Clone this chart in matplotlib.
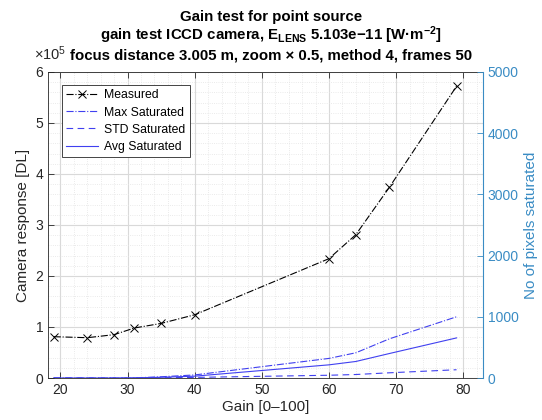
import matplotlib
matplotlib.use("Agg")
import matplotlib.pyplot as plt
from matplotlib.ticker import MultipleLocator

plt.rcParams['font.family'] = ['Liberation Sans', 'DejaVu Sans']
plt.rcParams['mathtext.fontset'] = 'custom'
plt.rcParams['mathtext.rm'] = 'Liberation Sans'
plt.rcParams['mathtext.bf'] = 'Liberation Sans:bold'
plt.rcParams['mathtext.it'] = 'Liberation Sans:italic'

# data
gain = [19, 24, 28, 31, 35, 40, 60, 64, 69, 79]
measured = [0.81e5, 0.79e5, 0.85e5, 0.98e5, 1.07e5, 1.24e5, 2.34e5, 2.81e5, 3.74e5, 5.72e5]
max_sat = [0, 0, 0, 2, 20, 50, 320, 412, 640, 1000]
std_sat = [0, 0, 0, 1, 5, 10, 45, 57, 85, 135]
avg_sat = [0, 0, 0, 1, 12, 30, 215, 270, 400, 655]

title_lines = ['Gain test for point source',
               r'gain test ICCD camera, E$_{\mathbf{LENS}}$ 5.103e−11 [W·m$^{\mathbf{-2}}$]',
               'focus distance 3.005 m, zoom × 0.5, method 4, frames 50']

dark = '#262626'
blue_ax = '#3a8cc4'
blue_ln = '#4040f0'

fig = plt.figure(figsize=(5.42, 4.2), dpi=100)
ax = fig.add_axes([0.0886, 0.1, 0.802, 0.7286])
ax2 = ax.twinx()

scale = 1e5
h1, = ax.plot(gain, [v / scale for v in measured], color='k', ls='-.', lw=0.8,
              marker='x', ms=5.5, mew=0.7, label='Measured')
h2, = ax2.plot(gain, max_sat, color=blue_ln, ls='-.', lw=0.8, label='Max Saturated')
h3, = ax2.plot(gain, std_sat, color=blue_ln, ls='--', lw=0.8, dashes=(6, 4),
               label='STD Saturated')
h4, = ax2.plot(gain, avg_sat, color=blue_ln, ls='-', lw=0.8, label='Avg Saturated')

ax.set_xlim(18.15, 82.9)
ax.set_ylim(0, 6)
ax2.set_ylim(0, 5000)

ax.xaxis.set_major_locator(MultipleLocator(10))
ax.xaxis.set_minor_locator(MultipleLocator(2))
ax.yaxis.set_major_locator(MultipleLocator(1))
ax.yaxis.set_minor_locator(MultipleLocator(0.2))
ax2.yaxis.set_major_locator(MultipleLocator(1000))

ax.grid(True, which='major', color='#d9d9d9', lw=0.8, ls='-')
ax.grid(True, which='minor', color='#e3e3e3', lw=0.6, ls=':')
ax.set_axisbelow(True)

ax.tick_params(axis='both', which='major', direction='in', length=4, width=0.6,
               labelsize=10, colors=dark, top=True)
ax.tick_params(axis='both', which='minor', length=0)
ax2.tick_params(axis='y', direction='in', length=4, width=0.6, labelsize=10,
                colors=blue_ax)
for s in ['left', 'bottom', 'top']:
    ax.spines[s].set_color(dark)
    ax.spines[s].set_linewidth(0.6)
    ax2.spines[s].set_visible(False)
ax2.spines['right'].set_color(blue_ax)
ax2.spines['right'].set_linewidth(0.8)
ax.spines['right'].set_visible(False)

ax.set_xlabel('Gain [0–100]', fontsize=11, color=dark, labelpad=2)
ax.set_ylabel('Camera response [DL]', fontsize=11, color=dark, labelpad=4)
ax2.set_ylabel('No of pixels saturated', fontsize=11, color=blue_ax, labelpad=4)

# title lines placed one by one (pixel baselines from the top)
for ypx, line in zip([20.5, 40, 59.5], title_lines):
    fig.text(271 / 542, 1 - ypx / 420, line, ha='center', va='baseline',
             fontsize=10.8, fontweight='bold', color='k')
fig.text(34 / 542, 1 - 60 / 420, r'$\times$10$^5$', ha='left', va='baseline',
         fontsize=10.5, color=dark)

leg = ax.legend(handles=[h1, h2, h3, h4], loc='upper left', fontsize=8.8,
                bbox_to_anchor=(0.032, 0.957), borderaxespad=0, fancybox=False,
                edgecolor=dark, framealpha=1, handlelength=2.6, handletextpad=0.5,
                labelspacing=0.42, borderpad=0.35)
leg.get_frame().set_linewidth(0.6)

fig.savefig('out.png', dpi=100)
